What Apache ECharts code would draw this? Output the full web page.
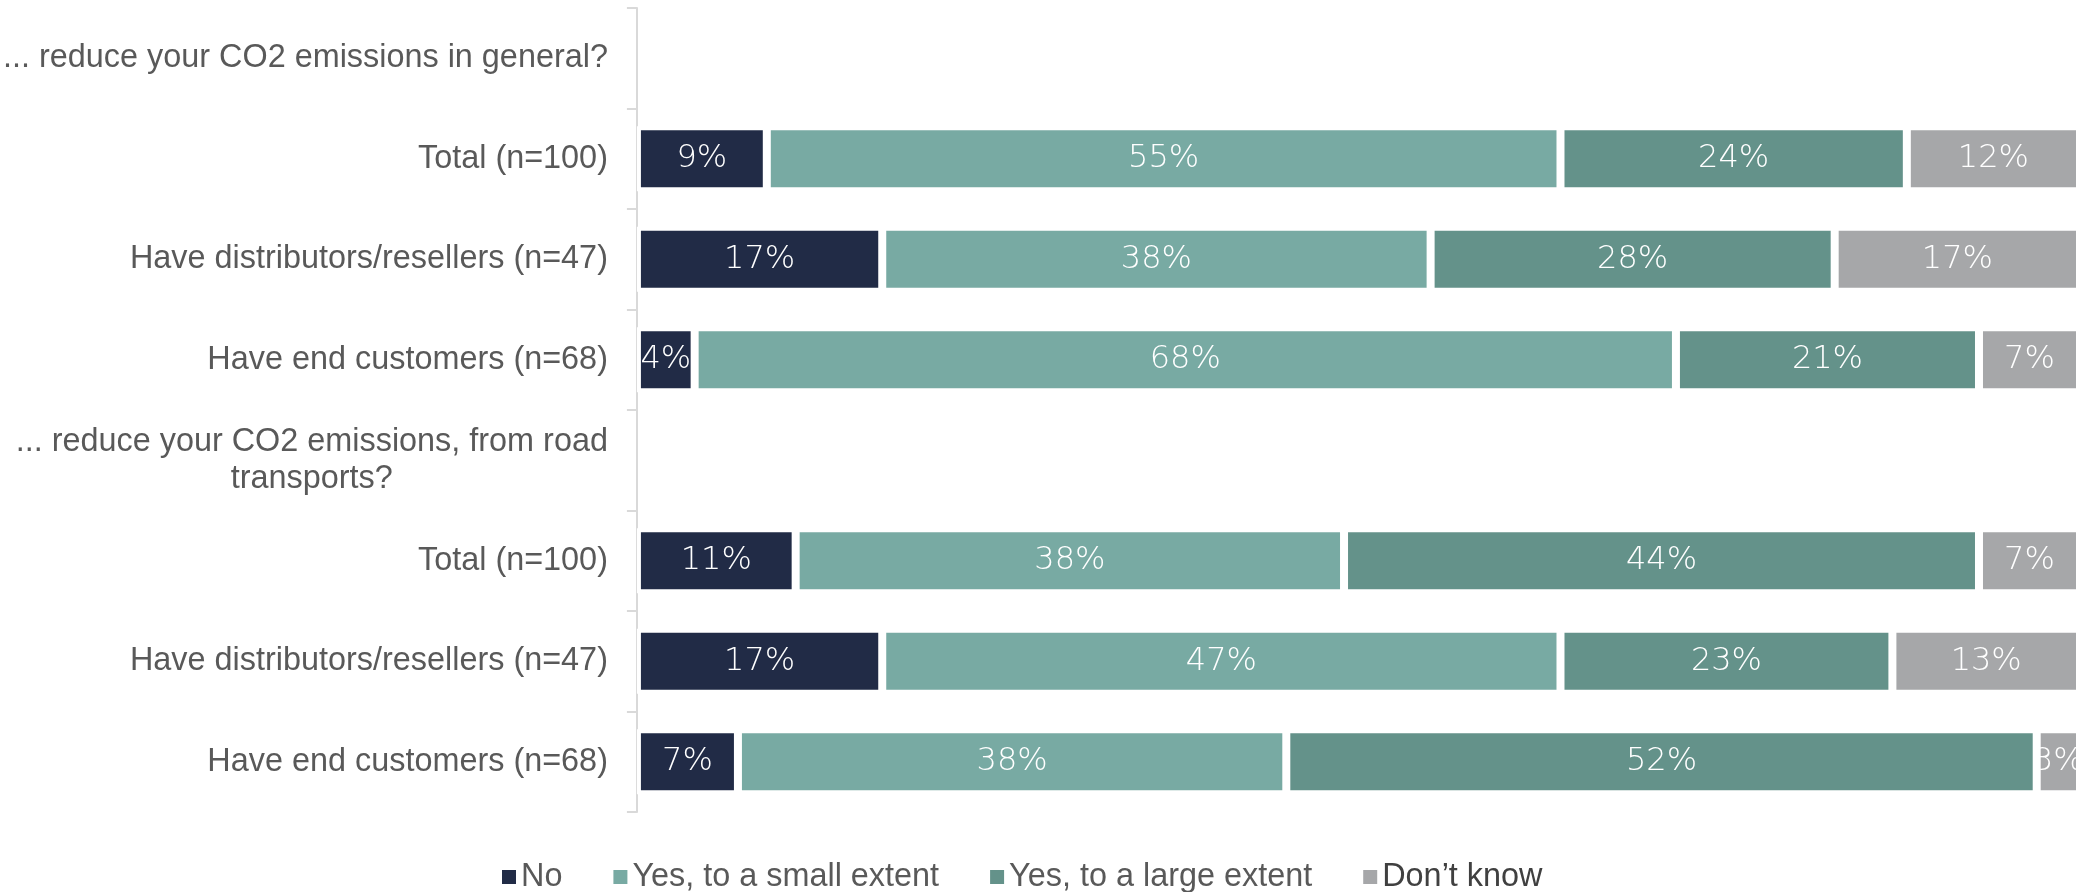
<!DOCTYPE html>
<html>
<head>
<meta charset="utf-8">
<script src="https://cdn.jsdelivr.net/npm/echarts@6/dist/echarts.min.js"></script>
<style>
  html, body { margin: 0; padding: 0; background: #ffffff; }
  #chart { width: 2088px; height: 892px; }
</style>
</head>
<body>
<div id="chart"></div>
<script>
// Row labels, top to bottom; question headers carry no bars.
const categories = [
  '... reduce your CO2 emissions in general?',
  'Total (n=100)',
  'Have distributors/resellers (n=47)',
  'Have end customers (n=68)',
  '... reduce your CO2 emissions, from road\ntransports?',
  'Total (n=100)',
  'Have distributors/resellers (n=47)',
  'Have end customers (n=68)'
];

// Answer shares in percent, one value per row (null on header rows).
const noValues         = [null,  9, 17,  4, null, 11, 17,  7];
const smallExtent      = [null, 55, 38, 68, null, 38, 47, 38];
const largeExtent      = [null, 24, 28, 21, null, 44, 23, 52];
const dontKnow         = [null, 12, 17,  7, null,  7, 13,  3];

const seriesNames = ['No', 'Yes, to a small extent', 'Yes, to a large extent', 'Don\u2019t know'];
const seriesColors = ['#212B46', '#78AAA3', '#64928A', '#A6A7A9'];
const seriesValues = [noValues, smallExtent, largeExtent, dontKnow];

const labelColor = '#595959';
const labelFont = '"Liberation Sans", Arial, sans-serif';
const valueFont = '"DejaVu Sans", sans-serif';

const chart = echarts.init(document.getElementById('chart'), null, { renderer: 'canvas' });

const series = seriesNames.map((name, i) => ({
  name: name,
  type: 'bar',
  stack: 'share',
  barWidth: 65,
  data: seriesValues[i],
  itemStyle: {
    color: seriesColors[i],
    borderColor: '#ffffff',
    borderWidth: 4
  },
  label: {
    show: true,
    position: 'inside',
    formatter: p => (p.value == null ? '' : p.value + '%'),
    color: '#ffffff',
    fontFamily: valueFont,
    fontWeight: 200,
    fontSize: 32
  },
  emphasis: { disabled: true },
  animation: false
}));

chart.setOption({
  backgroundColor: '#ffffff',
  animation: false,
  grid: {
    left: 634,
    right: 8,
    top: 8,
    bottom: 80,
    containLabel: false
  },
  xAxis: {
    type: 'value',
    min: 0,
    max: 100,
    show: false
  },
  yAxis: {
    type: 'category',
    inverse: true,
    data: categories,
    axisLine: { show: true, lineStyle: { color: '#D9D9D9', width: 2 } },
    axisTick: { show: true, length: 10, lineStyle: { color: '#D9D9D9', width: 2 } },
    axisLabel: {
      margin: 29,
      color: labelColor,
      fontFamily: labelFont,
      fontSize: 32.4,
      lineHeight: 37,
      formatter: function (value) {
        const lines = value.split('\n');
        if (lines.length === 1) return value;
        return '{l|' + lines[0] + '}\n{c|' + lines.slice(1).join(' ') + '}';
      },
      rich: {
        l: { color: labelColor, fontFamily: labelFont, fontSize: 32.4, lineHeight: 37, align: 'right' },
        c: { color: labelColor, fontFamily: labelFont, fontSize: 32.4, lineHeight: 37, align: 'center' }
      }
    },
    splitLine: { show: false }
  },
  legend: {
    left: 497,
    top: 855,
    icon: 'rect',
    itemWidth: 14,
    itemHeight: 14,
    itemGap: 51,
    itemStyle: { borderWidth: 0 },
    textStyle: {
      color: labelColor,
      fontFamily: labelFont,
      fontSize: 32.4,
      lineHeight: 34
    },
    data: seriesNames.map((n, i) => (i === 3
      ? { name: n, textStyle: { color: '#404040' } }
      : { name: n }))
  },
  series: series
});
</script>
</body>
</html>
